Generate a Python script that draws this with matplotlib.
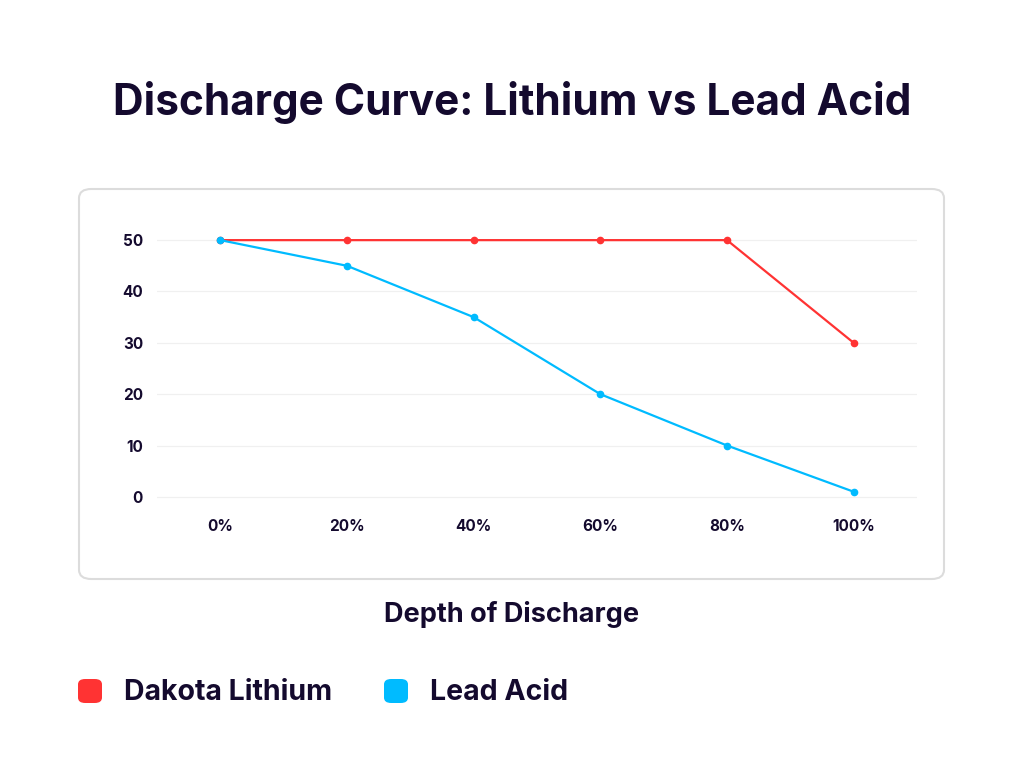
import matplotlib.pyplot as plt
from matplotlib.patches import FancyBboxPatch

depth = ['0%', '20%', '40%', '60%', '80%', '100%']
lithium = [50, 50, 50, 50, 50, 30]
lead_acid = [50, 45, 35, 20, 10, 1]
y_ticks = [0, 10, 20, 30, 40, 50]

red = '#ff3333'
blue = '#00bbff'
ink = '#140a2e'

plt.rcParams['font.family'] = ['Inter', 'DejaVu Sans']

fig = plt.figure(figsize=(10.24, 7.68), dpi=100)
W, H = 1024, 768

# rounded panel behind the plot
panel = FancyBboxPatch((79 / W, 1 - 579 / H), 865 / W, 390 / H,
                       boxstyle='round,pad=0,rounding_size=0.012',
                       transform=fig.transFigure, facecolor='white',
                       edgecolor='#dcdcdc', linewidth=1.5, zorder=-1)
fig.patches.append(panel)

ax = fig.add_axes([157 / W, 1 - 502 / H, 760 / W, 267 / H])
ax.set_zorder(1)
ax.set_facecolor('none')
x = list(range(len(depth)))
ax.plot(x, lithium, color=red, lw=1.6, marker='o', ms=4.5, zorder=3)
ax.plot(x, lead_acid, color=blue, lw=1.6, marker='o', ms=4.5, zorder=3)

ax.set_xlim(-0.5, 5.5)
ax.set_ylim(-1, 51)
ax.set_xticks(x)
ax.set_xticklabels(depth)
ax.set_yticks(y_ticks)
ax.grid(axis='y', color='#f0f0f0', lw=0.9)
ax.grid(axis='x', visible=False)
for s in ax.spines.values():
    s.set_visible(False)
ax.tick_params(length=0, labelsize=11, labelcolor=ink)
ax.tick_params(axis='x', pad=12)
ax.tick_params(axis='y', pad=10)
for lab in ax.get_xticklabels() + ax.get_yticklabels():
    lab.set_fontweight('bold')

fig.text(0.5, 1 - 103 / H, 'Discharge Curve: Lithium vs Lead Acid',
         ha='center', va='center', fontsize=30.5, fontweight='bold', color=ink)
fig.text(0.5, 1 - 614 / H, 'Depth of Discharge', ha='center', va='center',
         fontsize=19.5, fontweight='bold', color=ink)

# legend
for x0, col, label in [(78, red, 'Dakota Lithium'), (384, blue, 'Lead Acid')]:
    sq = FancyBboxPatch((x0 / W, 1 - 703 / H), 24 / W, 24 / H,
                        boxstyle='round,pad=0,rounding_size=0.007',
                        transform=fig.transFigure, facecolor=col,
                        edgecolor='none')
    fig.patches.append(sq)
    fig.text((x0 + 46) / W, 1 - 692 / H, label, ha='left', va='center',
             fontsize=20.5, fontweight='bold', color=ink)

fig.savefig('out.png', dpi=100, facecolor='white')
